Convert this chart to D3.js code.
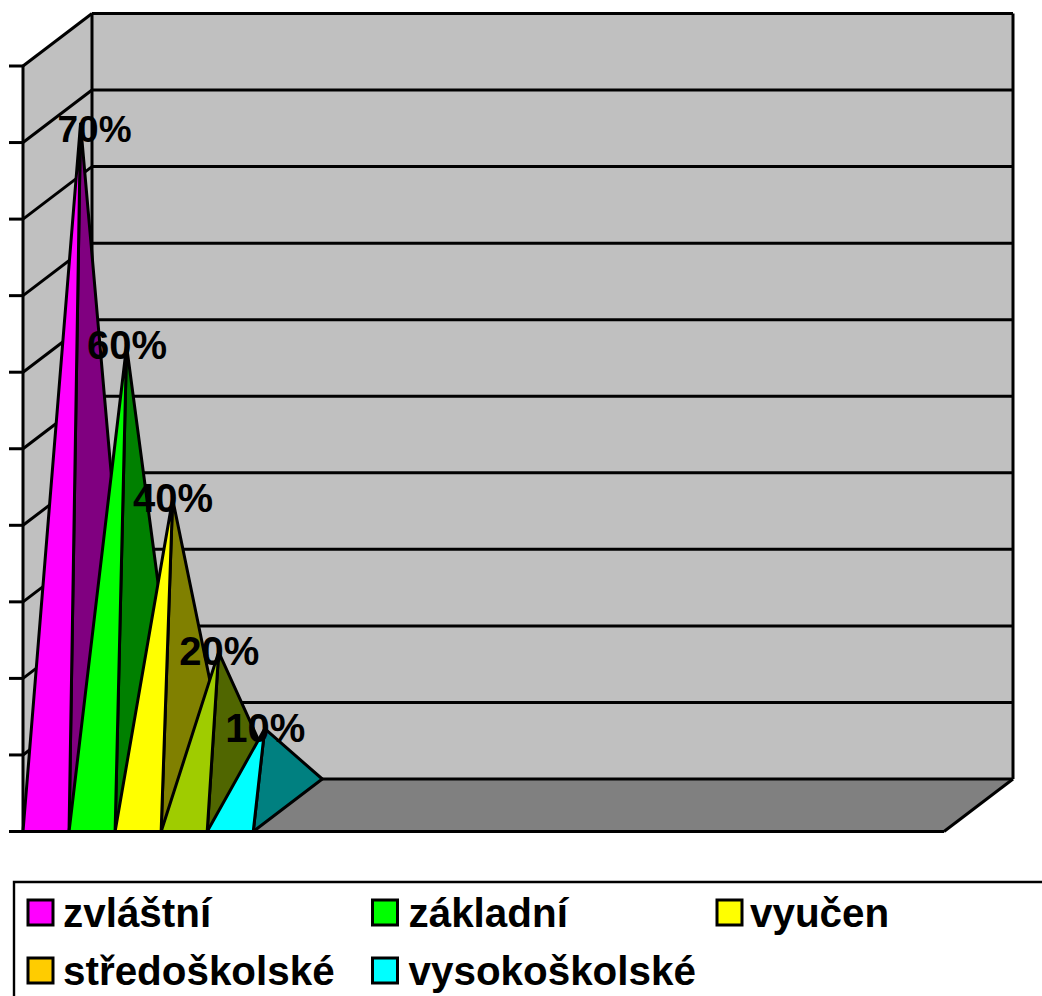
<!DOCTYPE html>
<html><head><meta charset="utf-8">
<script src="https://cdnjs.cloudflare.com/ajax/libs/d3/7.8.5/d3.min.js"></script>
<style>html,body{margin:0;padding:0;background:#fff;overflow:hidden}svg{display:block}text{font-family:"Liberation Sans",Arial,sans-serif;font-weight:bold;fill:#000}</style>
</head><body><svg id="c" width="1042" height="996"></svg>
<script>
const categories = ["zvláštní","základní","vyučen","středoškolské","vysokoškolské"];
const heights = [89, 60, 40, 20, 10];
const labels = ["70%","60%","40%","20%","10%"];
const lightColors = ["#FF00FF","#00FF00","#FFFF00","#9FCC00","#00FFFF"];
const darkColors = ["#800080","#008000","#808000","#506600","#008080"];
const legendColors = ["#FF00FF","#00FF00","#FFFF00","#FFCC00","#00FFFF"];
const yTicks = d3.range(0,101,10);
const slots = d3.range(20);

const svg = d3.select("#c");
const x = d3.scaleBand().domain(slots).range([23,944]).padding(0);
const y = d3.scaleLinear().domain([0,100]).range([831.5,66]);
const depth = d3.scaleLinear().domain([0,1]).range([0,1]);
const DX = 69, DY = -52.5;
const P = (px,v,d=0)=>[px+depth(d)*DX, y(v)+depth(d)*DY];
const poly = pts=>"M"+pts.map(p=>p.join(",")).join("L")+"Z";
const sw = 3;

// walls and floor
svg.append("path").attr("d",poly([P(23,0),P(23,100),P(23,100,1),P(23,0,1)])).attr("fill","#C0C0C0");
svg.append("path").attr("d",poly([P(23,0,1),P(23,100,1),P(944,100,1),P(944,0,1)])).attr("fill","#C0C0C0");
svg.append("path").attr("d",poly([P(23,0),P(944,0),P(944,0,1),P(23,0,1)])).attr("fill","#808080");

// gridlines
const line = (a,b,w=sw)=>svg.append("line").attr("x1",a[0]).attr("y1",a[1]).attr("x2",b[0]).attr("y2",b[1]).attr("stroke","#000").attr("stroke-width",w);
yTicks.forEach(t=>{
  line(P(23,t),P(23,t,1));
  line(P(23,t,1),P(944,t,1));
  line([9,y(t)],[23,y(t)]);
});
line(P(23,0),P(23,100));
line(P(23,0,1),P(23,100,1));
line(P(944,0,1),P(944,100,1));
line(P(23,0),P(944,0));
line(P(944,0),P(944,0,1));

// pyramids
categories.forEach((c,i)=>{
  const l = x(i), r = l + x.bandwidth();
  const apex = P((l+r)/2, heights[i], .5);
  svg.append("path").attr("d",poly([P(r,0),P(r,0,1),apex])).attr("fill",darkColors[i]).attr("stroke","#000").attr("stroke-width",sw).attr("stroke-linejoin","round");
  svg.append("path").attr("d",poly([P(l,0),P(r,0),apex])).attr("fill",lightColors[i]).attr("stroke","#000").attr("stroke-width",sw).attr("stroke-linejoin","round");
});
categories.forEach((c,i)=>{
  const l = x(i), r = l + x.bandwidth();
  const apex = P((l+r)/2, heights[i], .5);
  svg.append("text").attr("x",apex[0]+(i==0?14:0.5)).attr("y",apex[1]+(i==0?18:13)).attr("text-anchor","middle").attr("font-size",i==0?37:40).text(labels[i]);
});

// legend
svg.append("path").attr("d","M14,996V882H1042").attr("fill","none").attr("stroke","#000").attr("stroke-width",2.4);
const lx = d3.scalePoint().domain([0,1,2]).range([27,716]);
const ly = d3.scalePoint().domain([0,1]).range([899,957]);
const textOffset = d3.scaleOrdinal().domain([0,1,2]).range([36,37,34]);
categories.forEach((c,i)=>{
  const col=i%3,row=Math.floor(i/3);
  svg.append("rect").attr("x",lx(col)+1).attr("y",ly(row)+1).attr("width",25).attr("height",25).attr("fill",legendColors[i]).attr("stroke","#000").attr("stroke-width",3);
  svg.append("text").attr("x",lx(col)+textOffset(col)).attr("y",ly(row)+(row?27.5:28)).attr("font-size",40.4).text(c);
});
</script></body></html>
